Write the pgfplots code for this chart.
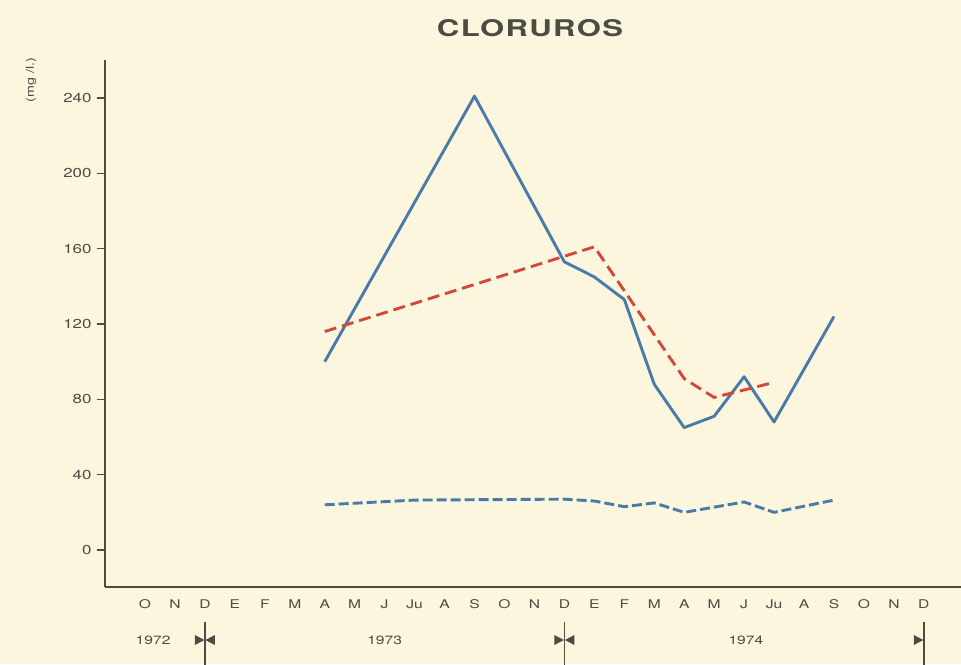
\documentclass[border=0pt]{standalone}
\usepackage{pgfplots}
\pgfplotsset{compat=1.18}
\usepackage{fontspec}
\setmainfont{TeX Gyre Heros}[FakeStretch=1.3]
\newfontfamily\titlefont{TeX Gyre Heros}[FakeStretch=1.35,LetterSpace=6]

\definecolor{paper}{HTML}{FBF6DD}
\definecolor{ink}{HTML}{4D4B45}
\definecolor{lineblue}{HTML}{4A7BA8}
\definecolor{linered}{HTML}{D4483A}

% monthly chloride concentrations (x = month index, Oct 1972 = 0)
\pgfplotstableread{
x y
6 100
11 241
14 153
15 145
16 133
17 88
18 65
19 71
20 92
21 68
23 124
}\solidblue
\pgfplotstableread{
x y
6 116
15 161
18 91
19 81
21 89
}\dashedred
\pgfplotstableread{
x y
6 24
9 26.5
14 27
15 26
16 23
17 25
18 20
20 25.5
21 20
23 26.5
}\dashedblue

\begin{document}
\begin{tikzpicture}
\path[use as bounding box, fill=paper] (-105pt,-77pt) rectangle (856pt,587pt);
\begin{axis}[
  scale only axis, width=856pt, height=527pt,
  at={(0,0)}, anchor=south west,
  xmin=-1.335, xmax=27.24, ymin=-19.65, ymax=260.2,
  axis x line*=bottom, axis y line*=left,
  axis line style={ink, line width=2pt},
  clip=false,
  ytick={0,40,...,240},
  xtick={0,...,26},
  xticklabels={O,N,D,E,F,M,A,M,J,Ju,A,S,O,N,D,E,F,M,A,M,J,Ju,A,S,O,N,D},
  tick align=outside,
  major tick length=8pt,
  y tick style={ink, line width=1.5pt},
  x tick style={draw=none},
  /pgf/number format/assume math mode=true,
  yticklabel style={font=\fontsize{13}{14}\selectfont, text=ink, xshift=-2pt},
  xticklabel style={font=\fontsize{12}{14}\selectfont, text=ink, yshift=-1pt},
]
\addplot[lineblue, line width=2.9pt, line join=round] table[x=x,y=y] {\solidblue};
\addplot[linered, line width=2.9pt, dash pattern=on 12pt off 6pt] table[x=x,y=y] {\dashedred};
\addplot[lineblue, line width=2.9pt, dash pattern=on 10pt off 4pt] table[x=x,y=y] {\dashedblue};

% title and unit
\node[font=\titlefont\bfseries\fontsize{23}{26}\selectfont, text=ink]
  at (rel axis cs:0.4965,1.0607) {CLORUROS};
\node[rotate=90, font=\fontsize{11}{12}\selectfont, text=ink]
  at (rel axis cs:-0.0864,0.962) {(mg /l.)};

% year row with separators
\node[font=\fontsize{12}{14}\selectfont, text=ink] at (axis cs:0.27,-47.8) {1972};
\node[font=\fontsize{12}{14}\selectfont, text=ink] at (axis cs:8,-47.8) {1973};
\node[font=\fontsize{12}{14}\selectfont, text=ink] at (axis cs:20.06,-47.8) {1974};
\pgfplotsinvokeforeach{2,14,26}{
  \draw[ink, line width=1.4pt] (axis cs:#1,-38.5) -- (axis cs:#1,-62);
  \fill[ink] ([xshift=-0.5pt]axis cs:#1,-47.8) -- ([xshift=-10pt,yshift=5pt]axis cs:#1,-47.8)
    -- ([xshift=-10pt,yshift=-5pt]axis cs:#1,-47.8) -- cycle;
}
\pgfplotsinvokeforeach{2,14}{
  \fill[ink] ([xshift=0.5pt]axis cs:#1,-47.8) -- ([xshift=10pt,yshift=5pt]axis cs:#1,-47.8)
    -- ([xshift=10pt,yshift=-5pt]axis cs:#1,-47.8) -- cycle;
}
\end{axis}
\end{tikzpicture}
\end{document}
